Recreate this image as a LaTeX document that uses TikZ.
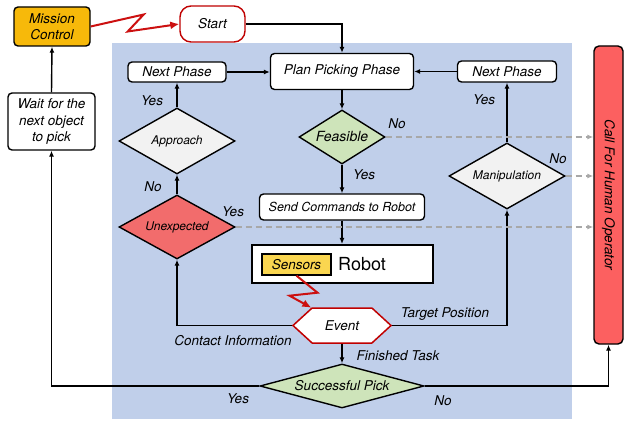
\documentclass[tikz,border=0pt]{standalone}
\usepackage{fontspec}
\setmainfont{TeX Gyre Heros}
\usetikzlibrary{arrows.meta,calc,shapes.geometric,shapes.symbols}
\definecolor{panelblue}{RGB}{192,207,234}
\definecolor{missionorange}{RGB}{247,185,10}
\definecolor{sensoryellow}{RGB}{250,214,80}
\definecolor{startred}{RGB}{192,0,0}
\definecolor{sparkred}{RGB}{204,16,16}
\definecolor{unexpred}{RGB}{242,108,108}
\definecolor{callred}{RGB}{252,96,96}
\definecolor{okgreen}{RGB}{206,228,186}
\definecolor{askgrey}{RGB}{242,242,242}
\definecolor{dashgrey}{RGB}{168,168,168}
\tikzset{>={Latex[length=6pt,width=5pt]}}
\tikzset{box/.style={draw, line width=1.4pt, fill=white, rounded corners=4pt, inner sep=2pt, font=\fontsize{13.5}{16.5}\selectfont\itshape}}
\tikzset{decision/.style={diamond, draw, line width=1.4pt, inner sep=0pt, font=\fontsize{12}{14}\selectfont\itshape}}
\tikzset{eventbox/.style={signal, signal to=west and east, signal pointer angle=85, draw=startred, fill=white, line width=1.5pt, inner sep=0pt, font=\fontsize{13.5}{16}\selectfont\itshape}}
\tikzset{lbl/.style={inner sep=0pt, font=\fontsize{13.5}{16}\selectfont\itshape}}
\tikzset{flow/.style={->, line width=1.4pt}}
\tikzset{human/.style={->, draw=dashgrey, line width=1.2pt, dash pattern=on 6pt off 4pt}}
\tikzset{spark/.style={-{Latex[length=9pt,width=8pt]}, draw=sparkred, line width=2pt}}

\begin{document}
\begin{tikzpicture}[x=1pt,y=-1pt]
  \useasboundingbox (0,0) rectangle (624,422);
  \fill[panelblue] (112,43) rectangle (572,419);

  \node[box, fill=missionorange, minimum width=76pt, minimum height=39pt, align=center] (mission) at (52,26.5) {Mission\\Control};
  \node[box, draw=startred, rounded corners=11pt, minimum width=65pt, minimum height=36pt] (start) at (212.5,24) {Start};
  \node[box, minimum width=87pt, minimum height=57pt, align=center] (wait) at (51.5,121.5) {Wait for the\\next object\\to pick};
  \node[box, minimum width=143pt, minimum height=36pt] (plan) at (342,71.5) {Plan Picking Phase};
  \node[box, minimum width=98pt, minimum height=20pt] (nextl) at (177,72) {Next Phase};
  \node[box, minimum width=99pt, minimum height=21pt] (nextr) at (507,71.5) {Next Phase};
  \node[decision, fill=askgrey, aspect=1.75, minimum width=116pt, minimum height=66pt] (approach) at (177,141) {Approach};
  \node[decision, fill=unexpred, aspect=1.8, minimum width=116pt, minimum height=64pt] (unexp) at (177,227) {Unexpected};
  \node[decision, fill=okgreen, aspect=1.6, minimum width=86pt, minimum height=54pt, font=\fontsize{14}{16}\selectfont\itshape] (feas) at (342,137) {Feasible};
  \node[box, minimum width=165pt, minimum height=26pt, font=\fontsize{12.5}{15}\selectfont\itshape] (send) at (342,207) {Send Commands to Robot};
  \node[box, rounded corners=0pt, line width=2pt, minimum width=181pt, minimum height=38pt] (robot) at (342,264) {};
  \node[box, rounded corners=0pt, fill=sensoryellow, minimum width=69pt, minimum height=21pt] (sensors) at (296.5,264.5) {Sensors};
  \node[inner sep=0pt, font=\fontsize{18}{20}\selectfont] (robottxt) at (362,264) {Robot};
  \node[eventbox, minimum width=98pt, minimum height=35pt] (event) at (342,325.5) {Event};
  \node[decision, fill=okgreen, aspect=3.7, minimum width=164pt, minimum height=44pt, font=\fontsize{13.5}{16}\selectfont\itshape] (succ) at (342,386) {Successful Pick};
  \node[decision, fill=askgrey, aspect=1.75, minimum width=116pt, minimum height=66pt] (manip) at (507,176) {Manipulation};
  \node[box, fill=callred, rounded corners=5pt, minimum width=29pt, minimum height=298pt] (call) at (608.5,195) {};
  \node[lbl, rotate=-90] (calltxt) at (call.center) {Call For Human Operator};

  \draw[spark] (mission.east) -- ++(53,-12) -- ++(-16,17) -- (start.west);
  \draw[flow] (start.east) -| (plan.north);
  \draw[flow] (nextl.east) -- (nextl.east -| plan.west);
  \draw[flow] (nextr.west) -- (nextr.west -| plan.east);
  \draw[flow] (approach.north) -- (nextl.south);
  \draw[flow] (unexp.north) -- (approach.south);
  \draw[flow] (plan.south) -- (feas.north);
  \draw[flow] (feas.south) -- (send.north);
  \draw[flow] (send.south) -- (robot.north);
  \draw[spark] (sensors.south) -- ++(21,17) -- ++(-28,3) -- (event.north west);
  \draw[flow] (event.west) -| (unexp.south);
  \draw[flow] (event.east) -| (manip.south);
  \draw[flow] (event.south) -- (succ.north);
  \draw[flow] (manip.north) -- (nextr.south);
  \draw[flow] (succ.west) -| (wait.south);
  \draw[flow] (succ.east) -| (call.south);
  \draw[flow] (wait.north) -- (mission.south);
  \draw[human] (feas.east) -- (feas.east -| call.west);
  \draw[human] (manip.east) -- (manip.east -| call.west);
  \draw[human] (unexp.east) -- (unexp.east -| call.west);

  \node[lbl] (yesapp) at (152,101) {Yes};
  \node[lbl] (noapp) at (153,187) {No};
  \node[lbl] (yesunexp) at (233,212) {Yes};
  \node[lbl] (nofeas) at (397,124) {No};
  \node[lbl] (yesfeas) at (364,175) {Yes};
  \node[lbl] (yesmanip) at (484,100) {Yes};
  \node[lbl] (nomanip) at (558,159) {No};
  \node[lbl] (target) at (445,314) {Target Position};
  \node[lbl] (contact) at (233,341) {Contact Information};
  \node[lbl] (finished) at (398,356) {Finished Task};
  \node[lbl] (yessucc) at (238,399) {Yes};
  \node[lbl] (nosucc) at (443,401) {No};
\end{tikzpicture}
\end{document}
